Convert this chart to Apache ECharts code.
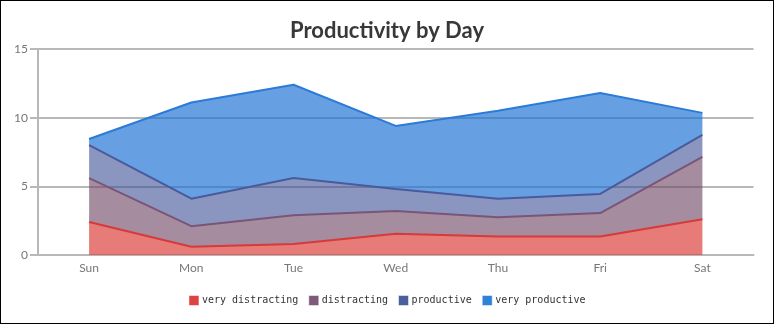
<!DOCTYPE html>
<html><head><meta charset="utf-8">
<script src="https://cdn.jsdelivr.net/npm/echarts@6/dist/echarts.min.js"></script>
<style>
html,body{margin:0;padding:0;background:#fff;}
#wrap{width:774px;height:324px;box-sizing:border-box;border:1px solid #000;}
#c{width:772px;height:322px;}
</style></head>
<body><div id="wrap"><div id="c"></div></div>
<script>
const categories = ['Sun','Mon','Tue','Wed','Thu','Fri','Sat'];
const seriesNames = ['very distracting','distracting','productive','very productive'];
// stacked increments
const veryDistracting = [2.4, 0.6, 0.8, 1.55, 1.35, 1.35, 2.6];
const distracting     = [3.2, 1.5, 2.1, 1.65, 1.4, 1.7, 4.55];
const productive      = [2.4, 2.0, 2.7, 1.6, 1.35, 1.4, 1.6];
const veryProductive  = [0.45, 7.0, 6.8, 4.6, 6.4, 7.35, 1.6];
const yTicks = [0, 5, 10, 15];

const lineColors = ['#d63a3a', '#7b5577', '#4a5a9c', '#2c7bd6'];
const fillColors = ['rgba(218,60,56,0.68)', 'rgba(110,70,100,0.62)', 'rgba(60,80,150,0.6)', 'rgba(30,115,212,0.68)'];
const legendColors = ['#dc4343', '#7e5a7a', '#4b5e9e', '#2f82d8'];
const datasets = [veryDistracting, distracting, productive, veryProductive];

const chart = echarts.init(document.getElementById('c'));
chart.setOption({
  animation: false,
  title: {
    text: 'Productivity by Day', left: 'center', top: 14,
    textStyle: { fontFamily: 'Lato', fontWeight: 'bold', fontSize: 22, color: '#383838' }
  },
  legend: {
    bottom: 12, left: 'center', itemWidth: 10, itemHeight: 10, itemGap: 10,
    icon: 'rect',
    textStyle: { fontFamily: 'DejaVu Sans Mono', fontSize: 10, color: '#333', padding: [0,0,0,-2] },
    data: seriesNames.map((n, i) => ({ name: n, itemStyle: { color: legendColors[i], borderColor: 'rgba(255,255,255,0.5)', borderWidth: 1 } }))
  },
  grid: { left: 37, right: 19.5, top: 48, bottom: 68 },
  xAxis: {
    type: 'category', data: categories, boundaryGap: true,
    axisLine: { lineStyle: { color: '#b8b8b8', width: 2 } },
    axisTick: { alignWithLabel: true, length: 5, lineStyle: { color: '#b8b8b8', width: 2 } },
    axisLabel: { color: '#777', fontFamily: 'Lato', fontSize: 12, margin: 7 },
    splitLine: { show: false }
  },
  yAxis: {
    type: 'value', min: yTicks[0], max: yTicks[yTicks.length - 1], interval: 5,
    axisLine: { show: true, lineStyle: { color: '#b8b8b8', width: 2 } },
    axisTick: { show: true, length: 8, lineStyle: { color: '#b8b8b8', width: 2 } },
    axisLabel: { color: '#777', fontFamily: 'Lato', fontSize: 12, margin: 10 },
    splitLine: { show: true, lineStyle: { color: '#b8b8b8', width: 2 } }
  },
  series: datasets.map((d, i) => ({
    name: seriesNames[i], type: 'line', stack: 'total', data: d,
    symbol: 'none', z: 2,
    lineStyle: { color: lineColors[i], width: 2 },
    itemStyle: { color: legendColors[i] },
    areaStyle: { color: fillColors[i], opacity: 1 }
  }))
});
</script></body></html>
